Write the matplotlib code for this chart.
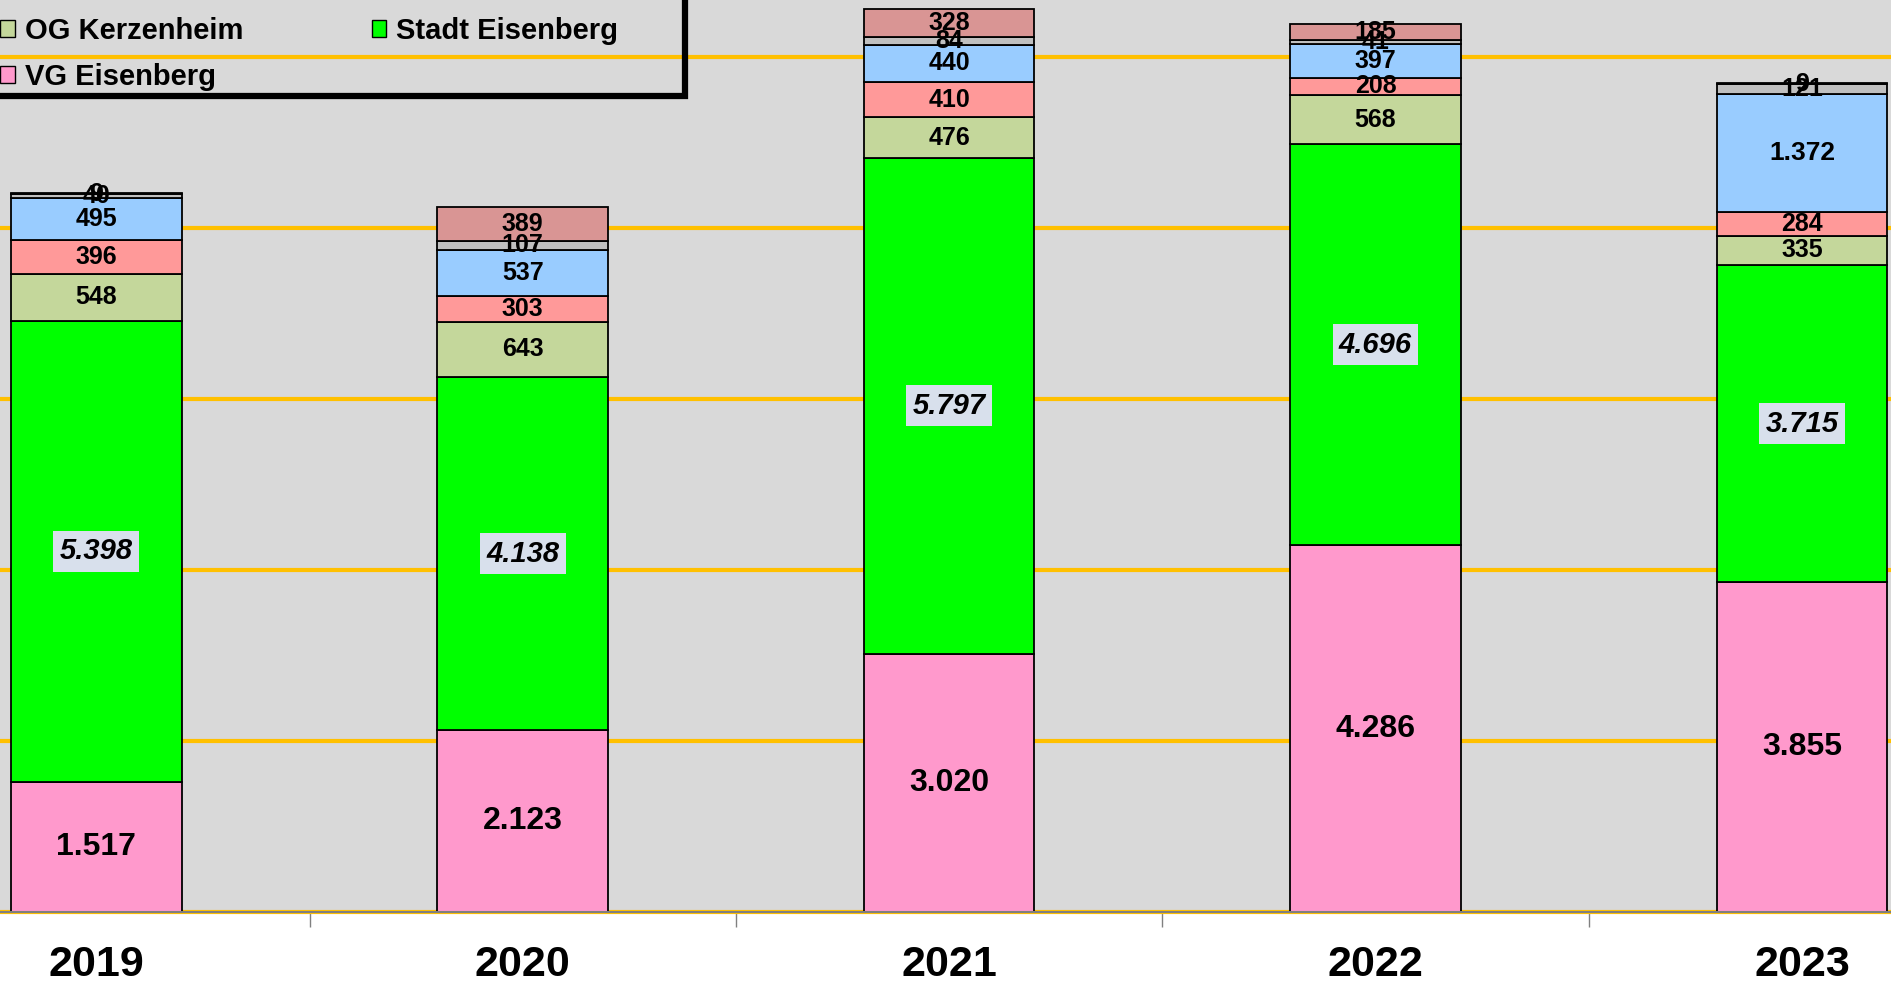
import matplotlib
matplotlib.use('Agg')
import matplotlib.pyplot as plt
from matplotlib.patches import Rectangle, Patch
from matplotlib import font_manager
import numpy as np

# ---------------- data ----------------
years = ['2019', '2020', '2021', '2022', '2023']
vg_eisenberg = [1517, 2123, 3020, 4286, 3855]
stadt_eisenberg = [5398, 4138, 5797, 4696, 3715]
og_kerzenheim = [548, 643, 476, 568, 335]
series_4 = [396, 303, 410, 208, 284]
series_5 = [495, 537, 440, 397, 1372]
series_6 = [40, 107, 84, 41, 121]
series_7 = [9, 389, 328, 185, 9]

legend_labels = ['OG Kerzenheim', 'VG Eisenberg', 'Stadt Eisenberg']

# ---------------- style ----------------
available = {f.name for f in font_manager.fontManager.ttflist}
narrow = ['Liberation Sans Narrow', 'Liberation Sans', 'DejaVu Sans']
narrow = [f for f in narrow if f in available] or ['DejaVu Sans']
regular = [f for f in ['Liberation Sans', 'DejaVu Sans'] if f in available]

c_vg = '#FF99CC'
c_stadt = '#00FF00'
c_og = '#C4D79B'
c_s4 = '#FF9999'
c_s5 = '#99CCFF'
c_s6 = '#C0C0C0'
c_s7 = '#D99594'


def fmt(v):
    return f'{v:,}'.replace(',', '.')


fig = plt.figure(figsize=(18.91, 9.82), dpi=100)
fig.patch.set_facecolor('white')
ax = fig.add_axes([0, 70 / 982, 1, 912 / 982])
ax.set_facecolor('#D9D9D9')

x = np.arange(len(years))
width = 0.4
stack = [
    (vg_eisenberg, c_vg, 'vg'),
    (stadt_eisenberg, c_stadt, 'stadt'),
    (og_kerzenheim, c_og, 'small'),
    (series_4, c_s4, 'small'),
    (series_5, c_s5, 'small'),
    (series_6, c_s6, 'small'),
    (series_7, c_s7, 'small'),
]

bottom = np.zeros(len(years))
for vals, color, kind in stack:
    vals = np.array(vals, dtype=float)
    ax.bar(x, vals, width, bottom=bottom, color=color, edgecolor='black',
           linewidth=1.3, zorder=3)
    for xi, b, v in zip(x, bottom, vals):
        yc = b + v / 2
        if kind == 'vg':
            ax.text(xi, yc, fmt(int(v)), ha='center', va='center',
                    fontsize=23, fontweight='bold', family=regular, zorder=5)
        elif kind == 'stadt':
            ax.text(xi, yc, fmt(int(v)), ha='center', va='center',
                    fontsize=21, fontweight='bold', fontstyle='italic',
                    family=regular, zorder=5,
                    bbox=dict(boxstyle='square,pad=0.22', facecolor='#D8E0EC',
                              edgecolor='none'))
        else:
            fs = 19 if v >= 1000 else 18
            ax.text(xi, yc, fmt(int(v)), ha='center', va='center',
                    fontsize=fs, fontweight='bold', family=regular, zorder=5)
    bottom += vals

ax.set_xlim(-0.226, 4.209)
ax.set_ylim(0, 10665)
ax.set_yticks([2000, 4000, 6000, 8000, 10000])
ax.yaxis.grid(True, color='#FFC000', linewidth=3, zorder=1)
ax.set_axisbelow(True)
ax.tick_params(axis='y', left=False, labelleft=False)
ax.axhline(0, color='#FFC000', linewidth=3, zorder=2, clip_on=False)

for s in ['top', 'left', 'right']:
    ax.spines[s].set_visible(False)
ax.spines['bottom'].set_color('#808080')
ax.spines['bottom'].set_linewidth(1.5)
ax.spines['bottom'].set_zorder(4)

ax.set_xticks(x)
ax.set_xticklabels(years, fontsize=31, fontweight='bold', family=narrow)
ax.tick_params(axis='x', which='major', length=0, pad=24)
ax.set_xticks(x[:-1] + 0.5, minor=True)
ax.tick_params(axis='x', which='minor', length=10.5, width=1, color='#808080')

# legend (partly cut off at the top of the picture)
handles = [Patch(facecolor=c_og, edgecolor='black', linewidth=1),
           Patch(facecolor=c_vg, edgecolor='black', linewidth=1),
           Patch(facecolor=c_stadt, edgecolor='black', linewidth=1)]
fig.legend(handles, legend_labels, ncol=2, loc='upper left',
           bbox_to_anchor=(0.0, 1 - 17 / 982), frameon=False,
           prop=dict(family=narrow, weight='bold', size=21),
           handlelength=0.5, handleheight=0.5, handletextpad=0.35,
           columnspacing=4.4, borderpad=0, borderaxespad=0, labelspacing=0.62)
frame = Rectangle((-0.01, 1 - 96 / 982), 685 / 1891 + 0.01, 0.2,
                  transform=fig.transFigure, fill=False, edgecolor='black',
                  linewidth=4.5, clip_on=False, zorder=10)
fig.add_artist(frame)

fig.savefig('out.png', dpi=100)
